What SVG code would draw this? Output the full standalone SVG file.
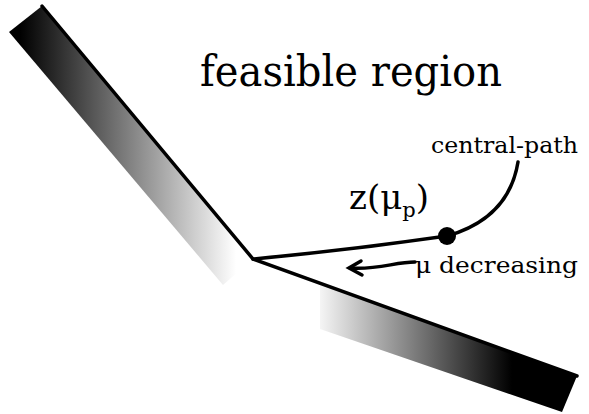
<svg xmlns="http://www.w3.org/2000/svg" width="589" height="414" viewBox="0 0 589 414">
<style>
.edge{fill:none;stroke:#000;stroke-width:3.5;stroke-linejoin:miter;stroke-linecap:round}
.lbl{font-family:"DejaVu Serif","Liberation Serif",serif;fill:#000}
</style>
<defs>
<linearGradient id="gUp" gradientUnits="userSpaceOnUse" x1="20" y1="0" x2="236" y2="0">
<stop offset="0" stop-color="#000"/>
<stop offset="1" stop-color="#fff"/>
</linearGradient>
<linearGradient id="gLo" gradientUnits="userSpaceOnUse" x1="312" y1="0" x2="512" y2="0">
<stop offset="0" stop-color="#fff"/>
<stop offset="1" stop-color="#000"/>
</linearGradient>
</defs>
<rect width="589" height="414" fill="#fff"/>
<g id="upper-band">
<polygon points="42,6 253,259 223,285 9,32" fill="url(#gUp)"/>
</g>
<g id="lower-band">
<polygon points="320,283 577,376 562,412 320,329" fill="url(#gLo)"/>
</g>
<g id="boundary">
<polyline class="edge" points="42,6 253,259 577,376"/>
</g>
<g id="connectors">
<path class="edge" d="M253,259 Q350,250 447,236 C482,226 511,205 518,162"/>
<path class="edge" d="M415,262 C395,262 378,270 350,268" stroke-width="4"/>
<polyline class="edge" points="361,261 349,268 362,275" stroke-width="4"/>
</g>
<g id="point">
<circle cx="447" cy="236" r="9" fill="#000"/>
</g>
<g id="labels">
<text class="lbl" x="200" y="86" font-size="42" textLength="302" lengthAdjust="spacingAndGlyphs">feasible region</text>
<text class="lbl" x="431" y="153" font-size="22" textLength="147" lengthAdjust="spacingAndGlyphs">central-path</text>
<text class="lbl" x="349" y="209" font-size="34">z(μ<tspan font-size="21" dy="8">p</tspan><tspan dy="-8">)</tspan></text>
<text class="lbl" x="415" y="273" font-size="22" textLength="163" lengthAdjust="spacingAndGlyphs">μ decreasing</text>
</g>
</svg>
